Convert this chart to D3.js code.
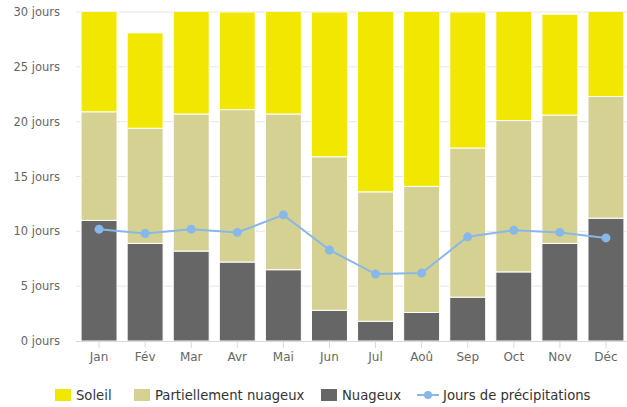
<!DOCTYPE html>
<html><head><meta charset="utf-8">
<script src="https://cdn.jsdelivr.net/npm/d3@7"></script>
<style>body{margin:0;background:#fff}svg{display:block}text{font-family:"DejaVu Sans",sans-serif}</style>
</head><body><svg id="c" width="627" height="407"></svg>
<script>
const months = ["Jan","Fév","Mar","Avr","Mai","Jun","Jul","Aoû","Sep","Oct","Nov","Déc"];
const nuageux = [11.0, 8.9, 8.2, 7.2, 6.5, 2.8, 1.8, 2.6, 4.0, 6.3, 8.9, 11.2];
const partiel = [9.9, 10.5, 12.5, 13.9, 14.2, 14.0, 11.8, 11.5, 13.6, 13.8, 11.7, 11.1];
const soleil  = [10.1, 8.7, 10.3, 8.9, 10.3, 13.2, 17.4, 16.9, 12.4, 10.9, 9.2, 8.7];
const precip  = [10.2, 9.8, 10.2, 9.9, 11.5, 8.3, 6.1, 6.2, 9.5, 10.1, 9.9, 9.4];
const yTicks  = [0, 5, 10, 15, 20, 25, 30];
const seriesNames = ["Soleil","Partiellement nuageux","Nuageux","Jours de précipitations"];
const colors = {sun:"#f2e700", part:"#d5d193", cloud:"#666666", rain:"#88b8e8"};

const svg = d3.select("#c");
const L = 76, R = 629, T = 12, B = 341;
const x = d3.scaleBand().domain(months).range([L, R]).paddingInner(0.22).paddingOuter(0.11);
const y = d3.scaleLinear().domain([0, 30]).range([B, T]);

svg.append("defs").append("clipPath").attr("id","pc")
  .append("rect").attr("x", L).attr("y", T).attr("width", R - L).attr("height", B - T);

// grid
svg.append("g").selectAll("line").data(yTicks.filter(d => d > 0)).join("line")
  .attr("x1", L).attr("x2", R).attr("y1", d => y(d)).attr("y2", d => y(d))
  .attr("stroke", "#e6e6e6").attr("stroke-width", 1);

// y labels
svg.append("g").selectAll("text").data(yTicks).join("text")
  .attr("x", 60).attr("y", d => y(d) + 4).attr("text-anchor", "end")
  .attr("font-size", "11.5px").attr("fill", "#666").text(d => d + " jours");

// stacked bars
const rows = months.map((m, i) => ({m, cloud: nuageux[i], part: partiel[i], sun: soleil[i]}));
const stack = d3.stack().keys(["cloud","part","sun"])(rows);
const gb = svg.append("g").attr("clip-path", "url(#pc)");
stack.forEach(layer => {
  gb.append("g").selectAll("rect").data(layer).join("rect")
    .attr("x", d => x(d.data.m)).attr("width", x.bandwidth())
    .attr("y", d => y(d[1])).attr("height", d => y(d[0]) - y(d[1]))
    .attr("fill", colors[layer.key]).attr("stroke", "#fff").attr("stroke-width", 1);
});

// x axis
svg.append("line").attr("x1", L).attr("x2", R).attr("y1", B + 0.5).attr("y2", B + 0.5)
  .attr("stroke", "#d8d8d8");
svg.append("g").selectAll("line").data(months).join("line")
  .attr("x1", d => x(d) + x.bandwidth() / 2).attr("x2", d => x(d) + x.bandwidth() / 2)
  .attr("y1", B).attr("y2", B + 7).attr("stroke", "#d8d8d8");
svg.append("g").selectAll("text").data(months).join("text")
  .attr("x", d => x(d) + x.bandwidth() / 2).attr("y", 361).attr("text-anchor", "middle")
  .attr("font-size", "12px").attr("fill", "#666").text(d => d);

// precipitation line
const cx = (d, i) => x(months[i]) + x.bandwidth() / 2;
svg.append("path").datum(precip)
  .attr("d", d3.line().x(cx).y(d => y(d)))
  .attr("fill", "none").attr("stroke", colors.rain).attr("stroke-width", 2);
svg.append("g").selectAll("circle").data(precip).join("circle")
  .attr("cx", cx).attr("cy", d => y(d)).attr("r", 4.5).attr("fill", colors.rain);

// legend
const lg = svg.append("g");
const items = [
  {name: seriesNames[0], c: colors.sun, sx: 55, tx: 76},
  {name: seriesNames[1], c: colors.part, sx: 134, tx: 155},
  {name: seriesNames[2], c: colors.cloud, sx: 321, tx: 342},
  {name: seriesNames[3], c: colors.rain, sx: 417, tx: 443, line: true}
];
items.forEach(it => {
  if (it.line) {
    lg.append("line").attr("x1", it.sx).attr("x2", it.sx + 22).attr("y1", 395).attr("y2", 395)
      .attr("stroke", it.c).attr("stroke-width", 2);
    lg.append("circle").attr("cx", it.sx + 11).attr("cy", 395).attr("r", 4).attr("fill", it.c);
  } else {
    lg.append("rect").attr("x", it.sx).attr("y", 389).attr("width", 16).attr("height", 12).attr("fill", it.c);
  }
  lg.append("text").attr("x", it.tx).attr("y", 400).attr("font-size", "13.2px").attr("fill", "#333").text(it.name);
});
</script></body></html>
